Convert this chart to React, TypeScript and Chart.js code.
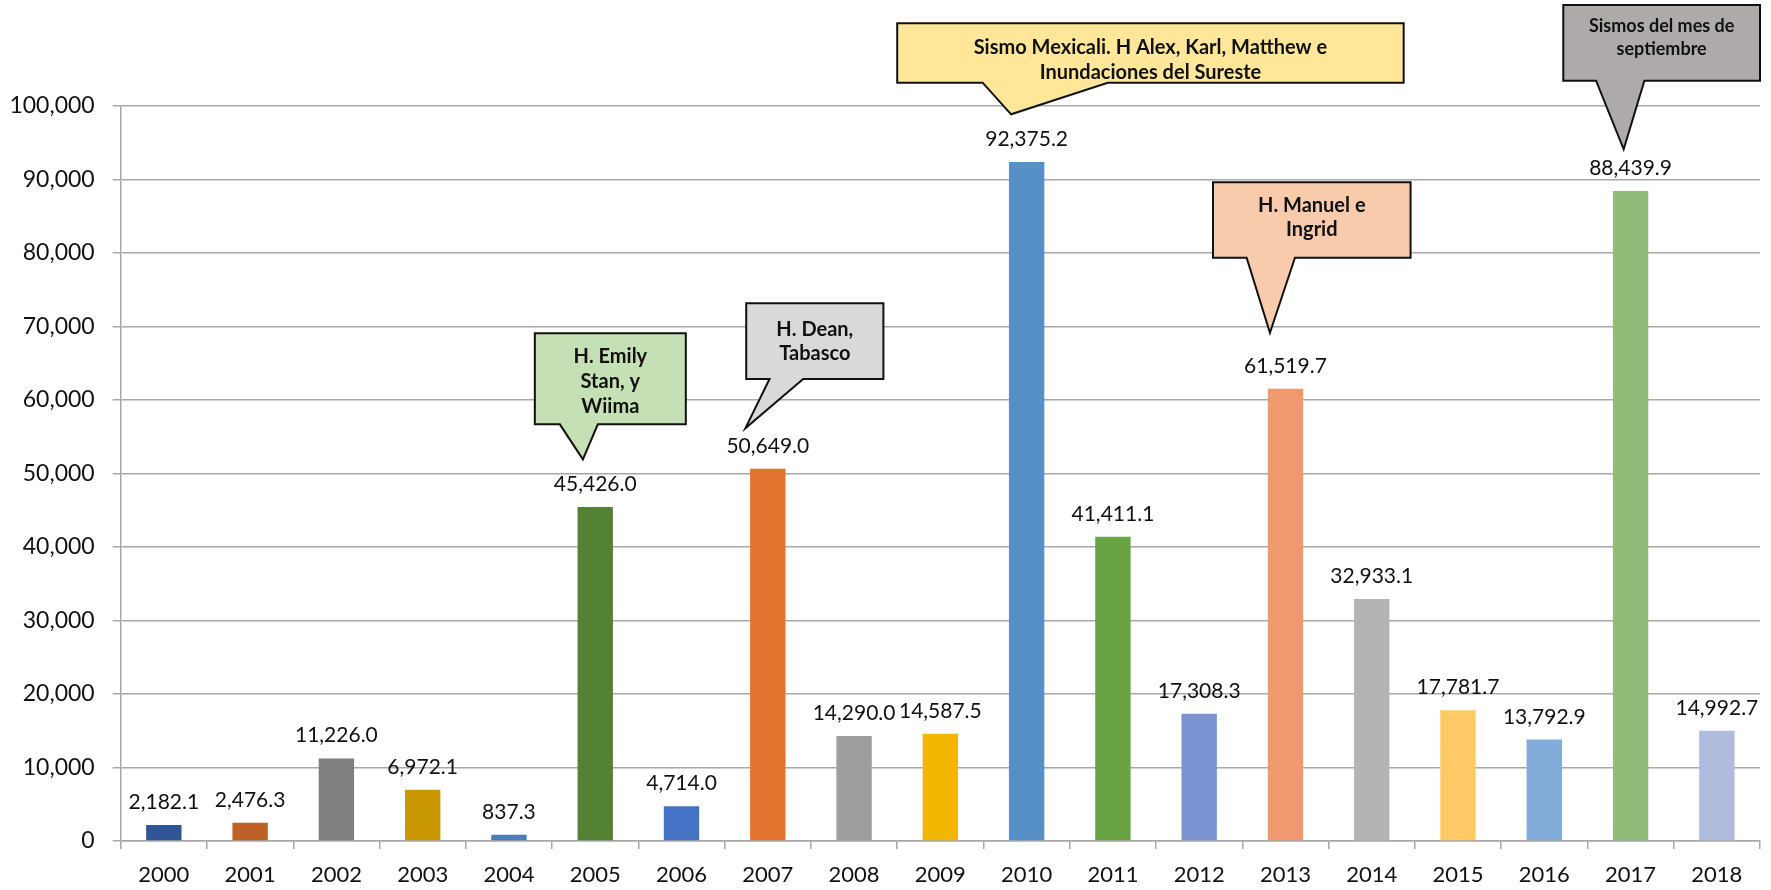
import React, { useEffect, useRef } from "react";
import { Chart, registerables } from "chart.js";

Chart.register(...registerables);

// ---- data ----
const years = [
  "2000", "2001", "2002", "2003", "2004", "2005", "2006", "2007", "2008", "2009",
  "2010", "2011", "2012", "2013", "2014", "2015", "2016", "2017", "2018",
];
const values = [
  2182.1, 2476.3, 11226.0, 6972.1, 837.3, 45426.0, 4714.0, 50649.0, 14290.0, 14587.5,
  92375.2, 41411.1, 17308.3, 61519.7, 32933.1, 17781.7, 13792.9, 88439.9, 14992.7,
];
const barColors = [
  "#2F5597", "#BE6126", "#7F7F7F", "#C99700", "#4A7EBB", "#548235", "#4472C4", "#E0742F", "#9E9E9E", "#F2B600",
  "#5591C8", "#68A443", "#7B93D1", "#F0986F", "#B4B4B4", "#FFC966", "#83ABDA", "#91BB78", "#B0BCDD",
];
const yMax = 100000;
const yStep = 10000;

// callout texts and their anchor years
const calloutYears = ["2005", "2007", "2010", "2013", "2017"];
const calloutTexts = [
  ["H. Emily", "Stan, y", "Wiima"],
  ["H. Dean,", "Tabasco"],
  ["Sismo Mexicali. H Alex, Karl, Matthew e", "Inundaciones del Sureste"],
  ["H. Manuel e", "Ingrid"],
  ["Sismos del mes de", "septiembre"],
];
// callout geometry in axis units (category index, value)
const calloutBoxes = [
  { x0: 4.3, x1: 6.05, yTop: 69070, yBot: 56690, tipX: 4.857, tipY: 51930, b0: 4.59, b1: 5.03 },
  { x0: 6.75, x1: 8.34, yTop: 73155, yBot: 62855, tipX: 6.74, tipY: 56148, b0: 7.02, b1: 7.41 },
  { x0: 8.5, x1: 14.37, yTop: 111250, yBot: 103170, tipX: 9.82, tipY: 98870, b0: 9.49, b1: 10.94 },
  { x0: 12.16, x1: 14.45, yTop: 89620, yBot: 79360, tipX: 12.82, tipY: 69150, b0: 12.55, b1: 13.11 },
  { x0: 16.22, x1: 18.5, yTop: 113740, yBot: 103440, tipX: 16.92, tipY: 94105, b0: 16.6, b1: 17.16 },
];
const calloutStyles = [
  { fill: "#C5E0B4", size: 20, lh: 25, dy: 3 },
  { fill: "#D9D9D9", size: 20, lh: 24, dy: 0 },
  { fill: "#FFE699", size: 20, lh: 25, dy: 7 },
  { fill: "#F8CBAD", size: 20, lh: 24, dy: -2 },
  { fill: "#AEAAAA", size: 18, lh: 23, dy: -5 },
];

const FONT = "Lato, 'Open Sans', sans-serif";
const GRID = "#A8A8A8";

const fmtValue = (v: number) =>
  v.toLocaleString("en-US", { minimumFractionDigits: 1, maximumFractionDigits: 1 });

const valueLabelPlugin = {
  id: "valueLabels",
  afterDatasetsDraw(chart: any) {
    const { ctx } = chart;
    const meta = chart.getDatasetMeta(0);
    ctx.save();
    ctx.font = `21px ${FONT}`;
    ctx.fillStyle = "#111";
    ctx.textAlign = "center";
    ctx.textBaseline = "alphabetic";
    meta.data.forEach((bar: any, i: number) => {
      ctx.fillText(fmtValue(values[i]), bar.x, bar.y - 16);
    });
    ctx.restore();
  },
};

const calloutPlugin = {
  id: "callouts",
  afterDraw(chart: any) {
    const { ctx } = chart;
    const xs = chart.scales.x;
    const ys = chart.scales.y;
    const c0 = xs.getPixelForValue(0);
    const cw = xs.getPixelForValue(1) - c0;
    const px = (c: number) => c0 + c * cw;
    const py = (v: number) => ys.getPixelForValue(v);
    calloutBoxes.forEach((b, i) => {
      const st = calloutStyles[i];
      const L = px(b.x0), R = px(b.x1), T = py(b.yTop), B = py(b.yBot);
      ctx.save();
      ctx.beginPath();
      ctx.moveTo(L, T);
      ctx.lineTo(R, T);
      ctx.lineTo(R, B);
      ctx.lineTo(px(b.b1), B);
      ctx.lineTo(px(b.tipX), py(b.tipY));
      ctx.lineTo(px(b.b0), B);
      ctx.lineTo(L, B);
      ctx.closePath();
      ctx.fillStyle = st.fill;
      ctx.fill();
      ctx.lineWidth = 2;
      ctx.lineJoin = "miter";
      ctx.strokeStyle = "#111";
      ctx.stroke();
      const lines = calloutTexts[i];
      ctx.font = `bold ${st.size}px ${FONT}`;
      ctx.fillStyle = "#111";
      ctx.textAlign = "center";
      ctx.textBaseline = "middle";
      const cx = (L + R) / 2;
      const cy = (T + B) / 2 + st.dy;
      const start = cy - ((lines.length - 1) * st.lh) / 2;
      lines.forEach((t, k) => ctx.fillText(t, cx, start + k * st.lh));
      ctx.restore();
    });
  },
};

export default function App() {
  const ref = useRef<HTMLCanvasElement | null>(null);
  useEffect(() => {
    document.body.style.margin = "0";
    const canvas = ref.current;
    if (!canvas) return;
    const chart = new Chart(canvas, {
      type: "bar",
      data: {
        labels: years,
        datasets: [
          {
            data: values,
            backgroundColor: barColors,
            borderWidth: 0,
            barPercentage: 0.41,
            categoryPercentage: 1,
          },
        ],
      },
      options: {
        animation: false,
        responsive: false,
        maintainAspectRatio: false,
        devicePixelRatio: 1,
        layout: { padding: { top: 106, right: 11, bottom: 0, left: 0 } },
        plugins: {
          legend: { display: false },
          tooltip: { enabled: false },
          title: { display: false },
        },
        scales: {
          x: {
            grid: {
              display: true,
              drawOnChartArea: false,
              drawTicks: true,
              tickLength: 8,
              color: GRID,
              lineWidth: 1.5,
              offset: true,
            },
            border: { display: true, color: GRID, width: 1.5 },
            ticks: {
              font: { family: FONT, size: 22 },
              color: "#111",
              padding: 13,
              maxRotation: 0,
              autoSkip: false,
            },
            afterFit: (s: any) => {
              s.height = 49;
            },
          },
          y: {
            min: 0,
            max: yMax,
            ticks: {
              stepSize: yStep,
              font: { family: FONT, size: 23 },
              color: "#111",
              padding: 18,
              callback: (v: any) => Number(v).toLocaleString("en-US"),
            },
            grid: { color: GRID, lineWidth: 1.5, tickLength: 8 },
            border: { display: true, color: GRID, width: 1.5 },
            afterFit: (s: any) => {
              s.width = 120.7;
            },
          },
        },
      },
      plugins: [valueLabelPlugin, calloutPlugin],
    });
    return () => chart.destroy();
  }, []);
  return (
    <div style={{ position: "absolute", left: 0, top: 0, width: 1771, height: 890, background: "#fff" }}>
      <canvas ref={ref} width={1771} height={890} style={{ display: "block" }} />
    </div>
  );
}
